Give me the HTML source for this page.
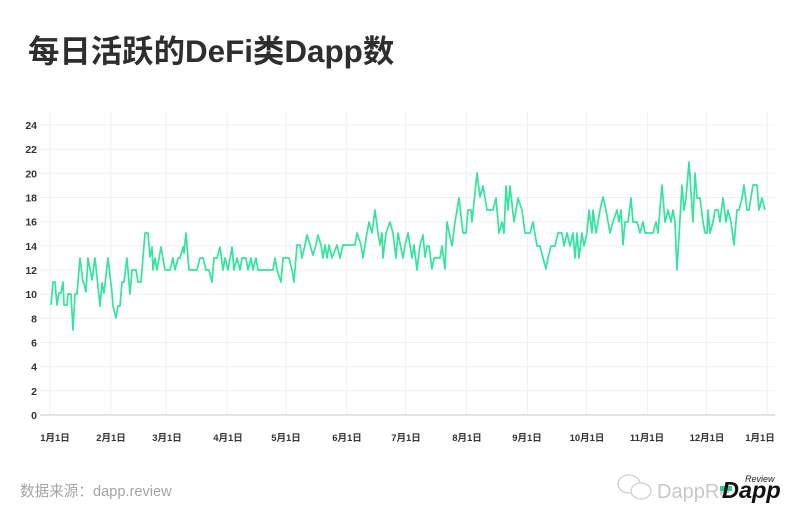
<!DOCTYPE html>
<html><head><meta charset="utf-8"><style>
html,body{margin:0;padding:0;background:#fff;}
svg{display:block;}
</style></head><body>
<svg width="800" height="527" viewBox="0 0 800 527" xmlns="http://www.w3.org/2000/svg">
<rect width="800" height="527" fill="#fff"/>
<text x="28" y="62" font-family="'Liberation Sans','Noto Sans CJK SC',sans-serif" font-size="31.4" font-weight="bold" fill="#2e2e2e">每日活跃的DeFi类Dapp数</text>

<g stroke="#f0f0f0" stroke-width="1">
<line x1="40" y1="125" x2="775" y2="125"/>
<line x1="40" y1="149.2" x2="775" y2="149.2"/>
<line x1="40" y1="173.3" x2="775" y2="173.3"/>
<line x1="40" y1="197.5" x2="775" y2="197.5"/>
<line x1="40" y1="221.7" x2="775" y2="221.7"/>
<line x1="40" y1="245.8" x2="775" y2="245.8"/>
<line x1="40" y1="270" x2="775" y2="270"/>
<line x1="40" y1="294.2" x2="775" y2="294.2"/>
<line x1="40" y1="318.3" x2="775" y2="318.3"/>
<line x1="40" y1="342.5" x2="775" y2="342.5"/>
<line x1="40" y1="366.7" x2="775" y2="366.7"/>
<line x1="40" y1="390.8" x2="775" y2="390.8"/>
<line x1="50" y1="112" x2="50" y2="415"/>
<line x1="110.9" y1="112" x2="110.9" y2="415"/>
<line x1="165.9" y1="112" x2="165.9" y2="415"/>
<line x1="226.9" y1="112" x2="226.9" y2="415"/>
<line x1="285.8" y1="112" x2="285.8" y2="415"/>
<line x1="346.7" y1="112" x2="346.7" y2="415"/>
<line x1="405.7" y1="112" x2="405.7" y2="415"/>
<line x1="466.6" y1="112" x2="466.6" y2="415"/>
<line x1="527.5" y1="112" x2="527.5" y2="415"/>
<line x1="586.4" y1="112" x2="586.4" y2="415"/>
<line x1="647.4" y1="112" x2="647.4" y2="415"/>
<line x1="706.3" y1="112" x2="706.3" y2="415"/>
<line x1="767.2" y1="112" x2="767.2" y2="415"/>
</g>
<line x1="40" y1="415" x2="775" y2="415" stroke="#d9d9d9" stroke-width="1.5"/>

<g font-family="'Liberation Sans',sans-serif" font-size="10.5" font-weight="bold" fill="#333" text-anchor="end">
<text x="37" y="129">24</text>
<text x="37" y="153.2">22</text>
<text x="37" y="177.3">20</text>
<text x="37" y="201.5">18</text>
<text x="37" y="225.7">16</text>
<text x="37" y="249.8">14</text>
<text x="37" y="274">12</text>
<text x="37" y="298.2">10</text>
<text x="37" y="322.3">8</text>
<text x="37" y="346.5">6</text>
<text x="37" y="370.7">4</text>
<text x="37" y="394.8">2</text>
<text x="37" y="419">0</text>
</g>

<g font-family="'Liberation Sans','Noto Sans CJK SC',sans-serif" font-size="9.5" font-weight="bold" fill="#333" text-anchor="middle">
<text x="55" y="441">1月1日</text>
<text x="111" y="441">2月1日</text>
<text x="167" y="441">3月1日</text>
<text x="228" y="441">4月1日</text>
<text x="286" y="441">5月1日</text>
<text x="347" y="441">6月1日</text>
<text x="406" y="441">7月1日</text>
<text x="467" y="441">8月1日</text>
<text x="527" y="441">9月1日</text>
<text x="587" y="441">10月1日</text>
<text x="647" y="441">11月1日</text>
<text x="707" y="441">12月1日</text>
<text x="760" y="441">1月1日</text>
</g>

<polyline fill="none" stroke="#34e3a0" stroke-width="1.7" stroke-linejoin="round" points="
51,305 53,282 55,282 57,305 59,293 61,293 63,282 64,305 67,305 68,294 71,294 73,330 75,294 77,294 80,258 83,282 84,283 86,292 88,258 92,280 95,258 100,306 102,283 104,293 108,258 112,293 113,306 116,318 118,306 120,306 122,282 124,282 127,258 130,294 132,270 136,270 138,282 141,282 145,233 148,233 150,257 152,247 153,270 155,258 157,270 161,247 165,270 170,270 173,258 175,270 178,258 180,258 183,247 184,253 186,233 189,270 197,270 200,258 203,258 206,270 209,270 212,282 214,258 217,258 220,247 223,270 225,258 228,270 232,247 234,270 237,258 240,270
242,258 246,258 248,270 251,258 253,270 256,258 258,270 262,270 273,270 275,258 277,270 281,282 283,258 289,258 292,270 294,282 297,245 300,245 302,258 305,245 307,235 310,245 313,255 316,245 318,235 321,245 323,258 325,245 327,258 329,245 332,258 337,245 340,258 343,245 355,245 357,233 361,245 363,258 365,245 367,233 369,222 372,233 375,210 378,233 380,245 382,233 383,258 386,233 390,222 393,233 396,258 398,233 403,258 405,245 408,233 412,258 414,245 417,270 420,245 423,235 425,257 427,246 429,246
432,269 434,258 440,258 442,246 445,269 447,222 452,246 455,222 459,198 463,233 466,233 468,210 471,210 472,222 477,173 480,197 483,186 487,210 493,210 496,198 499,233 502,222 504,233 506,186 508,210 510,186 514,222 518,198 522,210 525,233 530,233 533,222 537,246 540,246 543,258 546,269 548,258 551,246 555,246 558,233 562,233 564,246 567,233 570,246 573,233 575,258 577,233 579,258 582,233 584,246 587,233 589,210 592,233 593,210 596,233 598,222 600,210 603,197 606,210 610,233 613,222 617,210 619,222 621,210
623,245 625,222 628,222 631,198 633,222 637,222 640,233 643,222 645,233 653,233 656,222 658,233 662,185 665,222 668,210 671,222 673,210 675,222 677,270 682,185 684,210 686,198 689,162 693,222 695,173 697,198 700,198 703,222 705,233 707,233 708,210 710,233 713,222 715,210 718,210 720,222 723,198 726,222 728,210 731,222 734,245 737,210 739,210 742,198 744,185 747,210 749,210 753,185 757,185 759,210 762,198 765,210"/>

<text x="20" y="496" font-family="'Liberation Sans','Noto Sans CJK SC',sans-serif" font-size="14.6" fill="#a3a3a3">数据来源：dapp.review</text>

<g fill="none" stroke="#cfcfcf" stroke-width="1.3">
<ellipse cx="629" cy="484" rx="11" ry="9"/>
<ellipse cx="641" cy="491" rx="10" ry="8" fill="#fff"/>
</g>
<text x="657" y="498" font-family="'Liberation Sans',sans-serif" font-size="20" fill="#c8c8c8">DappRe</text>
<rect x="720" y="486" width="12" height="5" fill="#2fd0a0"/>
<text x="722" y="498" font-family="'Liberation Sans',sans-serif" font-size="23.5" font-weight="bold" font-style="italic" fill="#111">Dapp</text>
<text x="745" y="482" font-family="'Liberation Sans',sans-serif" font-size="9" font-style="italic" fill="#222">Review</text>
</svg>
</body></html>
